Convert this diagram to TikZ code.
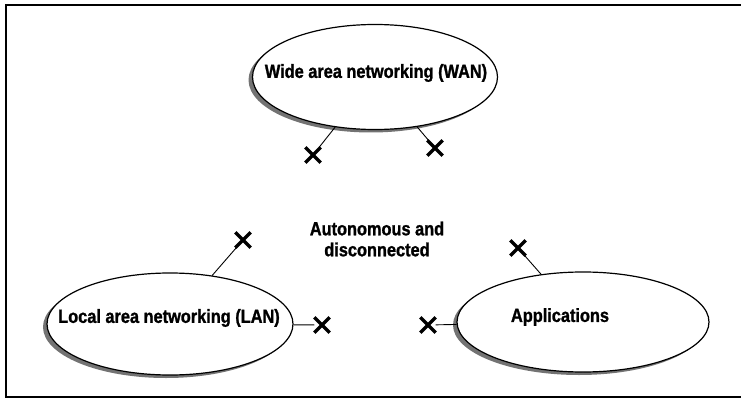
\documentclass[tikz,border=0pt]{standalone}
\usepackage{fontspec}
\setmainfont{Liberation Sans}[FakeStretch=0.86,BoldFeatures={FakeBold=1.2}]
\usetikzlibrary{shapes.geometric,shapes.misc,shadows,positioning}

\begin{document}
\begin{tikzpicture}
  [
   x=1pt,y=-1pt,
   net/.style={ellipse,line width=1.2pt,draw=black,fill=white,inner sep=0pt,
     drop shadow={shadow xshift=-4pt,shadow yshift=-3pt,fill=black!55,opacity=1}},
   lbl/.style={font=\fontsize{19}{21}\selectfont\bfseries,inner sep=0pt,align=center},
   xm/.style={cross out,draw=black,line width=3.4pt,inner sep=0pt,minimum size=12pt}
  ]
   \useasboundingbox (0,0) rectangle (741,398);
   \draw[line width=1.6pt] (741,5) -- (6,5) -- (6,397) -- (741,397);

   \node[net,minimum width=245pt,minimum height=105pt] (wan) at (375,77) {};
   \node[net,minimum width=246pt,minimum height=102pt] (lan) at (170,324) {};
   \node[net,minimum width=252pt,minimum height=100pt] (app) at (583,322) {};

   \node[lbl] (wantxt) at (376,73) {Wide area networking (WAN)};
   \node[lbl] (lantxt) at (169,318) {Local area networking (LAN)};
   \node[lbl] (apptxt) at (560,317) {Applications};
   \node[lbl] (midtxt) at (377,239) {Autonomous and\\disconnected};

   \node[xm] (x1) at (313,155) {};
   \node[xm] (x2) at (435,148) {};
   \node[xm] (x3) at (243,240) {};
   \node[xm] (x4) at (322,325) {};
   \node[xm] (x5) at (518,248) {};
   \node[xm] (x6) at (428,325) {};

   \draw[line width=0.9pt] (wan) -- (x1);
   \draw[line width=0.9pt] (wan) -- (x2);
   \draw[line width=0.9pt] (lan) -- (x3);
   \draw[line width=0.9pt] (lan) -- (x4);
   \draw[line width=0.9pt] (app) -- (x5);
   \draw[line width=0.9pt] (app) -- (x6);

\end{tikzpicture}
\end{document}
